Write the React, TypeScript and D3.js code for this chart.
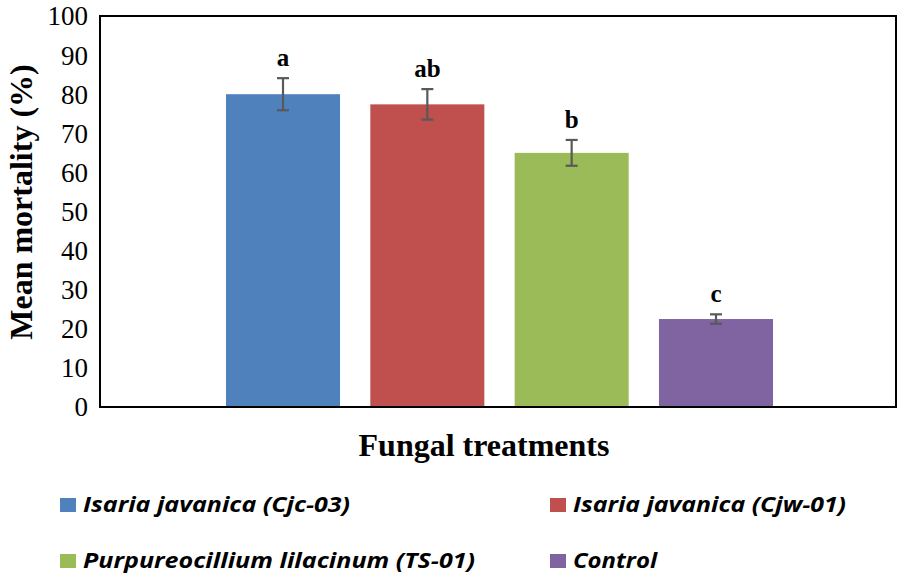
import React from "react";
import * as d3 from "d3";

const categories = [
  "Isaria javanica (Cjc-03)",
  "Isaria javanica (Cjw-01)",
  "Purpureocillium lilacinum (TS-01)",
  "Control",
];
const meanValues = [80, 77.4, 65, 22.5];
const errorValues = [4.1, 3.9, 3.3, 1.2];
const letters = ["a", "ab", "b", "c"];
const colors = ["#4F81BD", "#C0504D", "#9BBB59", "#8064A2"];
const yTicks = [0, 10, 20, 30, 40, 50, 60, 70, 80, 90, 100];

const W = 899;
const H = 576;
const plot = { left: 100, right: 896, top: 16, bottom: 407 };

export default function App() {
  const y = d3.scaleLinear().domain([0, 100]).range([plot.bottom, plot.top]);
  const x = d3
    .scaleBand<string>()
    .domain(categories)
    .range([226, 773])
    .paddingInner(0.21)
    .paddingOuter(0);
  const bw = x.bandwidth();
  const serif = "'Liberation Serif', 'Times New Roman', serif";
  const sans = "'Open Sans', 'Noto Sans', sans-serif";
  const legendPos = [
    { x: 60, y: 498, len: 267 },
    { x: 550, y: 498, len: 273 },
    { x: 60, y: 554, len: 392 },
    { x: 550, y: 554, len: 84 },
  ];
  return (
    <svg
      width={W}
      height={H}
      style={{ position: "absolute", left: 0, top: 0, background: "#fff" }}
    >
      <rect x={0} y={0} width={W} height={H} fill="#fff" />
      {categories.map((c, i) => (
        <rect
          key={c}
          x={x(c)}
          y={y(meanValues[i])}
          width={bw}
          height={y(0) - y(meanValues[i])}
          fill={colors[i]}
        />
      ))}
      <rect
        x={plot.left}
        y={plot.top}
        width={plot.right - plot.left}
        height={plot.bottom - plot.top}
        fill="none"
        stroke="#000"
        strokeWidth={2}
      />
      {categories.map((c, i) => {
        const cx = (x(c) as number) + bw / 2;
        const t = y(meanValues[i] + errorValues[i]);
        const b = y(meanValues[i] - errorValues[i]);
        return (
          <g key={"e" + c} stroke="#595959" strokeWidth={2.2}>
            <line x1={cx} x2={cx} y1={t} y2={b} />
            <line x1={cx - 6} x2={cx + 6} y1={t} y2={t} />
            <line x1={cx - 6} x2={cx + 6} y1={b} y2={b} />
          </g>
        );
      })}
      {categories.map((c, i) => {
        const cx = (x(c) as number) + bw / 2;
        const t = y(meanValues[i] + errorValues[i]);
        return (
          <text
            key={"l" + c}
            x={cx}
            y={t - 12}
            textAnchor="middle"
            fontFamily={serif}
            fontWeight="bold"
            fontSize={25}
          >
            {letters[i]}
          </text>
        );
      })}
      {yTicks.map((v) => (
        <text
          key={v}
          x={88}
          y={y(v)}
          dy="0.35em"
          textAnchor="end"
          fontFamily={serif}
          fontSize={27}
        >
          {v}
        </text>
      ))}
      <text
        transform={`translate(32,202) rotate(-90)`}
        textAnchor="middle"
        fontFamily={serif}
        fontWeight="bold"
        fontSize={32}
      >
        Mean mortality (%)
      </text>
      <text
        x={484}
        y={456}
        textAnchor="middle"
        fontFamily={serif}
        fontWeight="bold"
        fontSize={32}
      >
        Fungal treatments
      </text>
      {categories.map((c, i) => (
        <g key={"lg" + c}>
          <rect
            x={legendPos[i].x}
            y={legendPos[i].y}
            width={16}
            height={14}
            fill={colors[i]}
          />
          <text
            x={legendPos[i].x + 23}
            y={legendPos[i].y + 14}
            fontFamily={sans}
            fontStyle="italic"
            fontWeight="bold"
            fontSize={22}
            textLength={legendPos[i].len}
            lengthAdjust="spacingAndGlyphs"
          >
            {c}
          </text>
        </g>
      ))}
    </svg>
  );
}
